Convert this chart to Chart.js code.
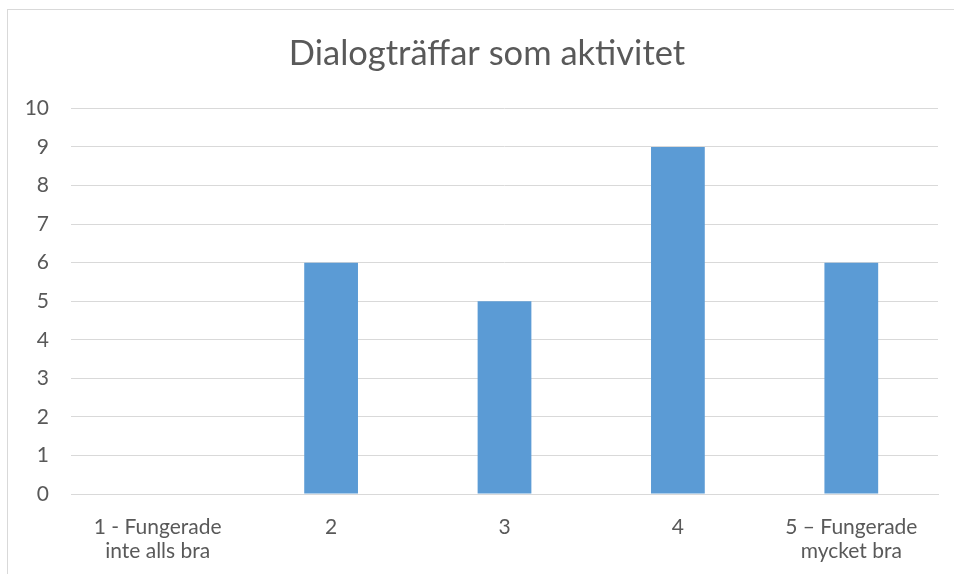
<!DOCTYPE html>
<html>
<head>
<meta charset="utf-8">
<script src="https://cdn.jsdelivr.net/npm/chart.js@4"></script>
<style>
  html, body { margin: 0; padding: 0; background: #fff; overflow: hidden; }
  #frame { position: absolute; left: 7px; top: 9px; width: 1000px; height: 1000px; border: 1px solid #d9d9d9; }
  #wrap { position: absolute; left: 0; top: 0; width: 974px; height: 574px; }
</style>
</head>
<body>
<div id="frame"></div>
<!-- canvas runs a little past the window so the title centre matches the original frame -->
<div id="wrap"><canvas id="myChart" width="974" height="574"></canvas></div>
<script>
// categories (x axis, multi-line where the original wraps)
const categories = [
  ['1 - Fungerade', 'inte alls bra'],
  '2',
  '3',
  '4',
  ['5 \u2013 Fungerade', 'mycket bra']
];
const counts = [0, 6, 5, 9, 6];
const yTicks = [0, 1, 2, 3, 4, 5, 6, 7, 8, 9, 10];

const textColor = '#595959';
const gridColor = '#d9d9d9';
const fontFamily = 'Lato, "Open Sans", sans-serif';

const config = {
  type: 'bar',
  data: {
    labels: categories,
    datasets: [{
      label: 'Antal',
      data: counts,
      backgroundColor: '#5b9bd5',
      borderWidth: 0,
      barPercentage: 0.31,
      categoryPercentage: 1
    }]
  },
  options: {
    responsive: false,
    animation: false,
    layout: { padding: 0 },
    plugins: {
      legend: { display: false },
      tooltip: { enabled: false },
      title: {
        display: true,
        text: 'Dialogträffar som aktivitet',
        color: textColor,
        font: { family: fontFamily, size: 34.5, weight: 'normal', lineHeight: 1.2 },
        padding: { top: 33, bottom: 34 }
      }
    },
    scales: {
      x: {
        grid: { display: false, drawTicks: false },
        border: { display: true, color: gridColor, width: 1 },
        ticks: {
          color: textColor,
          font: { family: fontFamily, size: 21, lineHeight: 1.15 },
          padding: 21,
          maxRotation: 0
        },
        afterFit: function (scale) { scale.height = 80; }
      },
      y: {
        min: 0,
        max: yTicks[yTicks.length - 1],
        afterBuildTicks: function (scale) {
          scale.ticks = yTicks.map(function (v) { return { value: v }; });
        },
        grid: { color: gridColor, lineWidth: 1, drawTicks: false },
        border: { display: false },
        ticks: {
          color: textColor,
          font: { family: fontFamily, size: 21 },
          padding: 22
        },
        afterFit: function (scale) { scale.width = 71; }
      },
      // empty spacer on the right, keeps the plot ending where the original does
      spacer: {
        type: 'linear',
        position: 'right',
        grid: { display: false, drawTicks: false },
        border: { display: false },
        ticks: { display: false },
        afterFit: function (scale) { scale.width = 36; }
      }
    }
  }
};

const myChart = new Chart(document.getElementById('myChart'), config);
</script>
</body>
</html>
